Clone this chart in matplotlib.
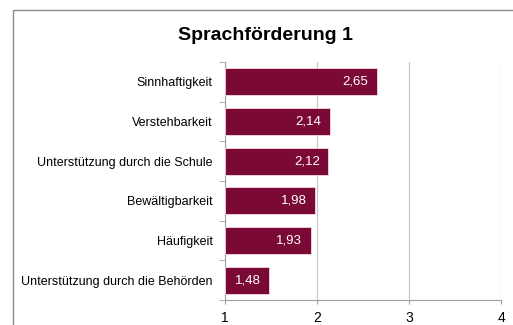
import matplotlib.pyplot as plt
from matplotlib.patches import Rectangle

categories = [
    'Sinnhaftigkeit',
    'Verstehbarkeit',
    'Unterstützung durch die Schule',
    'Bewältigbarkeit',
    'Häufigkeit',
    'Unterstützung durch die Behörden',
]
values = [2.65, 2.14, 2.12, 1.98, 1.93, 1.48]
x_ticks = [1, 2, 3, 4]

bar_color = '#7a0a35'

plt.rcParams['font.family'] = ['Liberation Sans', 'DejaVu Sans']

fig = plt.figure(figsize=(5.13, 3.25), dpi=100)
ax = fig.add_axes([225 / 513, 1 - 300 / 325, 276 / 513, 238 / 325])

# outer chart frame
fig.patches.append(Rectangle((13 / 513, -0.1), 1.2, 1 - 10 / 325 + 0.1,
                             transform=fig.transFigure, fill=False,
                             edgecolor='#8c8c8c', linewidth=1.0))

pos = list(range(len(categories)))[::-1]
ax.barh(pos, [v - 1 for v in values], left=1, height=0.68,
        color=bar_color, edgecolor='#f2d9e0', linewidth=0.6, zorder=3)

for p, v in zip(pos, values):
    ax.annotate(f'{v:.2f}'.replace('.', ','), (v, p), xytext=(-6, 0),
                textcoords='offset points', ha='right', va='center',
                color='white', fontsize=9.5, zorder=4)

ax.set_xlim(1, 4)
ax.set_ylim(-0.5, len(categories) - 0.5)
ax.set_xticks(x_ticks)
ax.set_xticklabels([str(t) for t in x_ticks], fontsize=10)
ax.set_yticks(pos)
ax.set_yticklabels(categories, fontsize=9)
ax.tick_params(axis='y', length=0, pad=9)
ax.tick_params(axis='x', length=3, color='#a0a0a0', pad=5)

# boundary ticks between categories on the left spine
ax.set_yticks([p - 0.5 for p in range(len(categories) + 1)], minor=True)
ax.tick_params(axis='y', which='minor', length=4, color='#a0a0a0')

ax.grid(axis='x', color='#c8c8c8', linewidth=0.9, zorder=0)
for s in ['top', 'right']:
    ax.spines[s].set_visible(False)
for s in ['left', 'bottom']:
    ax.spines[s].set_color('#a0a0a0')

fig.text(265 / 513, 1 - 36 / 325, 'Sprachförderung 1', ha='center',
         va='center', fontsize=14, fontweight='bold')

fig.savefig('out.png', dpi=100)
